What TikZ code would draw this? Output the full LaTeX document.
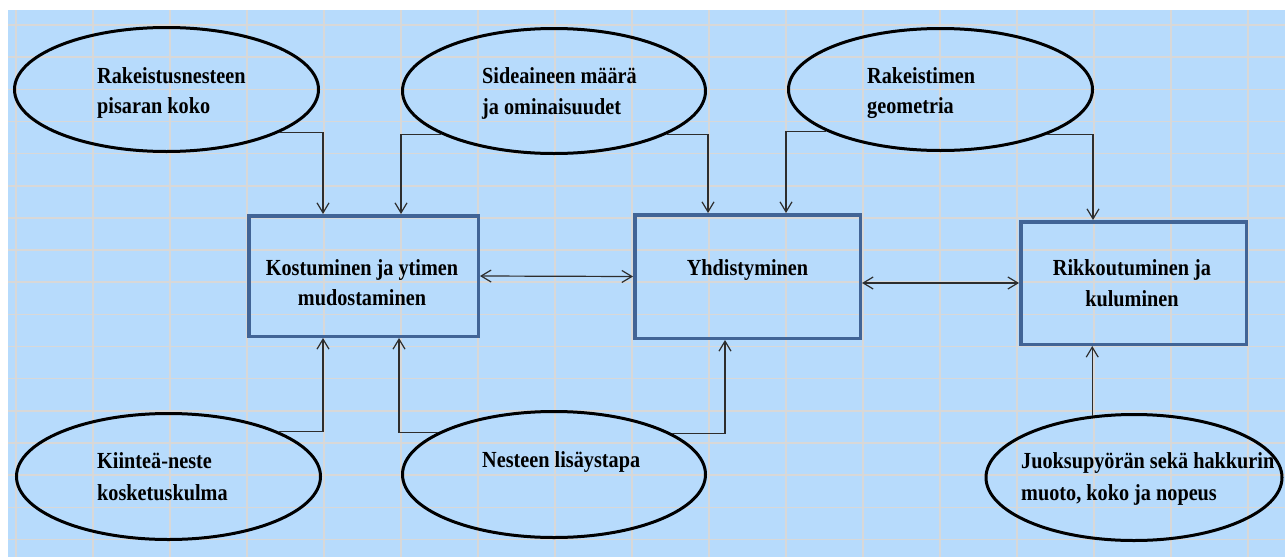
\documentclass[tikz,border=0pt]{standalone}
\usepackage{fontspec}
\newfontfamily\lblfont[FakeStretch=0.88]{Liberation Serif}
\usetikzlibrary{arrows.meta,shapes.geometric}

\definecolor{sheetblue}{RGB}{183,219,252}
\definecolor{gridgray}{RGB}{216,216,216}
\definecolor{boxblue}{RGB}{65,100,150}
\definecolor{linkgray}{RGB}{45,45,45}

\begin{document}
\begin{tikzpicture}[x=1pt,y=-1pt,
  oval/.style={ellipse, draw=black, line width=3pt, inner sep=0pt},
  stage/.style={rectangle, draw=boxblue, line width=3.5pt, inner sep=0pt},
  lbl/.style={font=\lblfont\bfseries\fontsize{23}{30}\selectfont, inner sep=0pt, text=black},
  gridline/.style={draw=gridgray, line width=1.5pt},
  link/.style={draw=linkgray, line width=1.2pt, -{Straight Barb[length=10pt,width=12pt]}},
  twoway/.style={draw=linkgray, line width=1.2pt,
    {Straight Barb[length=10pt,width=12pt]}-{Straight Barb[length=10pt,width=12pt]}}]

% page and sheet background
\useasboundingbox (0,0) rectangle (1285,557);
\fill[white] (0,0) rectangle (1285,557);
\fill[sheetblue] (8,10) rectangle (1285,557);

% worksheet grid
\foreach \k in {0,...,16} {
  \draw[gridline] ({16+77*\k},10) -- ({16+77*\k},557);
  \draw[gridline] (8,{25+32.15*\k}) -- (1285,{25+32.15*\k});
}

% influencing factors
\node[oval, minimum width=304pt, minimum height=124pt] (e1) at (166.5,89.5) {};
\node[oval, minimum width=303pt, minimum height=125pt] (e2) at (554,91) {};
\node[oval, minimum width=304pt, minimum height=122pt] (e3) at (940.5,89.5) {};
\node[oval, minimum width=304pt, minimum height=126pt] (e4) at (168.5,476.5) {};
\node[oval, minimum width=303pt, minimum height=126pt] (e5) at (554,474.5) {};
\node[oval, minimum width=296pt, minimum height=126pt] (e6) at (1134,477.5) {};

% granulation stages
\node[stage, minimum width=229.5pt, minimum height=120.5pt] (b1) at (363.5,276) {};
\node[stage, minimum width=225.5pt, minimum height=123.5pt] (b2) at (747.5,276.5) {};
\node[stage, minimum width=225.5pt, minimum height=122.5pt] (b3) at (1133.5,283) {};

% labels of the factors
\node[lbl, anchor=base west] (t1a) at (97,83) {Rakeistusnesteen};
\node[lbl, anchor=base west] (t1b) at (97,113) {pisaran koko};
\node[lbl, anchor=base west] (t2a) at (482,83) {Sideaineen määrä};
\node[lbl, anchor=base west] (t2b) at (482,114) {ja ominaisuudet};
\node[lbl, anchor=base west] (t3a) at (867,83) {Rakeistimen};
\node[lbl, anchor=base west] (t3b) at (867,113) {geometria};
\node[lbl, anchor=base west] (t4a) at (97,468) {Kiinteä-neste};
\node[lbl, anchor=base west] (t4b) at (97,500) {kosketuskulma};
\node[lbl, anchor=base west] (t5a) at (482,467) {Nesteen lisäystapa};
\node[lbl, anchor=base west] (t6a) at (1021,468) {Juoksupyörän sekä hakkurin};
\node[lbl, anchor=base west] (t6b) at (1021,500) {muoto, koko ja nopeus};

% labels of the stages
\node[lbl, anchor=base] (s1a) at (362,275) {Kostuminen ja ytimen};
\node[lbl, anchor=base] (s1b) at (362,305) {mudostaminen};
\node[lbl, anchor=base] (s2a) at (747.5,275) {Yhdistyminen};
\node[lbl, anchor=base] (s3a) at (1132,275) {Rikkoutuminen ja};
\node[lbl, anchor=base] (s3b) at (1132,306) {kuluminen};

% factor -> stage connectors
\draw[link] (e1.-21) -| ([xshift=76pt]b1.north west);
\draw[link] (e2.201) -| ([xshift=154pt]b1.north west);
\draw[link] (e2.-21) -| ([xshift=75pt]b2.north west);
\draw[link] (e3.200) -| ([xshift=153pt]b2.north west);
\draw[link] (e3.-23.6) -| ([xshift=74pt]b3.north west);
\draw[link] (e4.22) -| ([xshift=76pt]b1.south west);
\draw[link] (e5.160) -| ([xshift=152pt]b1.south west);
\draw[link] (e5.19) -| ([xshift=92pt]b2.south west);
\draw[link] (e6.124) -- (e6.124 |- b3.south);

% stage <-> stage connectors
\draw[twoway] (b1.east) -- (b2.west);
\draw[twoway] (b2.east |- b3.west) -- (b3.west);
\end{tikzpicture}
\end{document}
